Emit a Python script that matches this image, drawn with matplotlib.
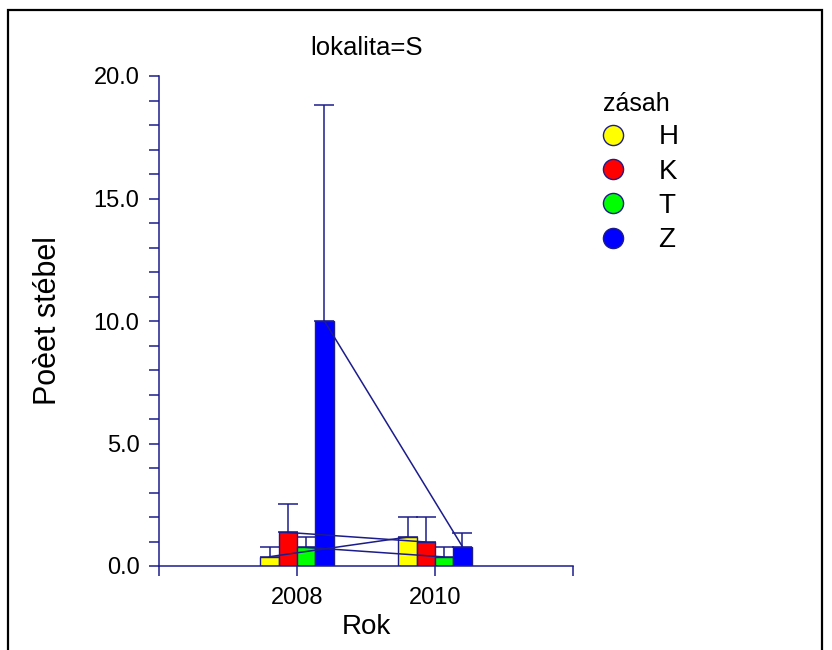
import numpy as np
import matplotlib.pyplot as plt
from matplotlib.patches import Rectangle
from matplotlib.lines import Line2D

plt.rcParams['font.family'] = ['Liberation Sans', 'DejaVu Sans']

# data
roky = [2008, 2010]
zasah = ["H", "K", "T", "Z"]
prumer = {
    "H": [0.38, 1.18],
    "K": [1.37, 0.98],
    "T": [0.76, 0.37],
    "Z": [10.0, 0.79],
}
chyba = {
    "H": [0.41, 0.81],
    "K": [1.17, 1.02],
    "T": [0.41, 0.42],
    "Z": [8.8, 0.57],
}
barvy = {"H": "#ffff00", "K": "#ff0000", "T": "#00ff00", "Z": "#0000ff"}

navy = "#1c1c8c"
sirka = 0.265

fig = plt.figure(figsize=(8.32, 6.5), dpi=100)
ax = fig.add_axes([159/832, 1 - 566/650, (573-159)/832, (566-76)/650])

# ramecek kolem grafu
fig.patches.append(Rectangle((8/832, -0.1), (822-8)/832, 1.1 - 10/650,
                             transform=fig.transFigure, fill=False,
                             edgecolor="black", linewidth=1.6, clip_on=False))

x = np.array(roky, dtype=float)
for i, z in enumerate(zasah):
    pos = x + (i - 1.5) * sirka
    ax.bar(pos, prumer[z], width=sirka, color=barvy[z], edgecolor=navy,
           linewidth=1.0, zorder=2)
    ax.errorbar(pos, prumer[z], yerr=[np.zeros(2), chyba[z]], fmt="none",
                ecolor=navy, elinewidth=1.1, capsize=7, capthick=1.1, zorder=1)
    ax.plot(pos, prumer[z], color=navy, linewidth=1.1, zorder=3)

ax.set_xlim(2006, 2012)
ax.set_ylim(0, 20)
ax.set_xticks([2006, 2008, 2010, 2012])
ax.set_xticklabels(["", "2008", "2010", ""])
ax.set_yticks([0, 5, 10, 15, 20])
ax.set_yticklabels(["0.0", "5.0", "10.0", "15.0", "20.0"])
ax.set_yticks(np.arange(0, 21, 1), minor=True)

for s in ["top", "right"]:
    ax.spines[s].set_visible(False)
for s in ["left", "bottom"]:
    ax.spines[s].set_color(navy)
    ax.spines[s].set_linewidth(1.1)
ax.tick_params(which="both", direction="out", length=7, width=1.1, color=navy,
               labelsize=17)
ax.tick_params(axis="x", pad=8)
ax.tick_params(axis="y", pad=7)

ax.set_xlabel("Rok", fontsize=20, labelpad=4)
ax.set_ylabel("Poèet stébel", fontsize=22, labelpad=22)
ax.set_title("lokalita=S", fontsize=18.5, pad=15)

# legenda
h = [Line2D([], [], linestyle="none", marker="o", markersize=14.5,
            markerfacecolor=barvy[z], markeredgecolor=navy, markeredgewidth=1.0)
     for z in zasah]
leg = fig.legend(h, zasah, title="zásah", loc="upper left",
                 bbox_to_anchor=(603/832, 1 - 92/650), frameon=False,
                 fontsize=20, title_fontsize=18, handlelength=0.7,
                 handletextpad=1.3, labelspacing=0.3, borderpad=0,
                 borderaxespad=0, alignment="left")

fig.savefig("out.png", dpi=100)
